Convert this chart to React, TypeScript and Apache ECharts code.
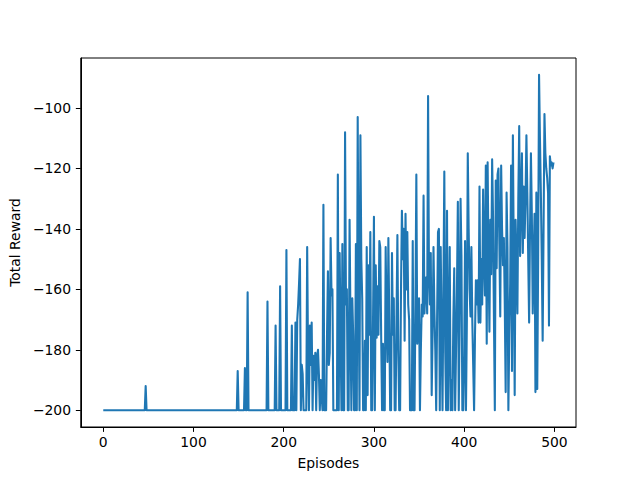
import React, { useEffect, useRef } from "react";
import * as echarts from "echarts";

// Total reward per episode (episode index = array index)
const rewards: number[] = [
  // 0-49
  -200, -200, -200, -200, -200, -200, -200, -200, -200, -200,
  -200, -200, -200, -200, -200, -200, -200, -200, -200, -200,
  -200, -200, -200, -200, -200, -200, -200, -200, -200, -200,
  -200, -200, -200, -200, -200, -200, -200, -200, -200, -200,
  -200, -200, -200, -200, -200, -200, -200, -192, -200, -200,
  // 50-99
  -200, -200, -200, -200, -200, -200, -200, -200, -200, -200,
  -200, -200, -200, -200, -200, -200, -200, -200, -200, -200,
  -200, -200, -200, -200, -200, -200, -200, -200, -200, -200,
  -200, -200, -200, -200, -200, -200, -200, -200, -200, -200,
  -200, -200, -200, -200, -200, -200, -200, -200, -200, -200,
  // 100-149
  -200, -200, -200, -200, -200, -200, -200, -200, -200, -200,
  -200, -200, -200, -200, -200, -200, -200, -200, -200, -200,
  -200, -200, -200, -200, -200, -200, -200, -200, -200, -200,
  -200, -200, -200, -200, -200, -200, -200, -200, -200, -200,
  -200, -200, -200, -200, -200, -200, -200, -200, -200, -187,
  // 150-199
  -200, -200, -200, -200, -200, -200, -200, -186, -200, -200,
  -161, -200, -200, -200, -200, -200, -200, -200, -200, -200,
  -200, -200, -200, -200, -200, -200, -200, -200, -200, -200,
  -200, -200, -164, -200, -200, -200, -200, -200, -200, -200,
  -200, -172, -200, -200, -200, -200, -159, -200, -200, -200,
  // 200-249
  -200, -200, -200, -147, -200, -200, -200, -200, -200, -172,
  -200, -200, -200, -171, -200, -170, -165, -158, -150, -200,
  -185, -188, -200, -200, -200, -200, -146, -183, -200, -172,
  -185, -171, -200, -182, -190, -181, -200, -182, -180, -188,
  -200, -190, -195, -200, -132, -200, -200, -200, -175, -154,
  // 250-299
  -185, -181, -143, -162, -160, -200, -200, -200, -200, -200,
  -122, -200, -148, -175, -200, -145, -200, -200, -108, -165,
  -160, -200, -200, -137, -171, -200, -163, -175, -200, -200,
  -145, -200, -103, -160, -200, -109, -150, -163, -200, -200,
  -177, -200, -146, -195, -152, -175, -141, -200, -200, -170,
  // 300-349
  -136, -200, -152, -176, -159, -175, -144, -146, -175, -200,
  -178, -200, -200, -146, -170, -184, -143, -170, -200, -200,
  -148, -175, -163, -200, -200, -170, -142, -180, -200, -200,
  -160, -134, -150, -140, -177, -135, -160, -141, -165, -170,
  -200, -200, -200, -144, -200, -200, -165, -122, -178, -170,
  // 350-399
  -163, -200, -180, -165, -169, -129, -168, -160, -156, -168,
  -96, -155, -165, -148, -195, -175, -146, -167, -180, -200,
  -170, -141, -140, -200, -146, -175, -200, -160, -121, -180,
  -200, -134, -200, -175, -146, -200, -190, -200, -170, -153,
  -200, -180, -160, -131, -200, -170, -130, -149, -200, -200,
  // 400-449
  -182, -144, -200, -170, -115, -140, -160, -169, -146, -170,
  -185, -200, -175, -157, -165, -157, -171, -126, -171, -150,
  -165, -127, -150, -162, -119, -178, -118, -150, -174, -137,
  -155, -117, -136, -170, -200, -124, -153, -122, -120, -145,
  -169, -119, -140, -152, -143, -165, -194, -128, -146, -200,
  // 450-499
  -175, -158, -119, -187, -109, -151, -195, -137, -150, -168,
  -130, -106, -149, -130, -115, -148, -126, -143, -130, -109,
  -128, -150, -171, -140, -115, -135, -168, -150, -135, -194,
  -128, -193, -150, -89, -110, -128, -150, -177, -140, -102,
  -115, -120, -123, -128, -172, -116, -119, -118, -120, -118,
];

const xTicks = [0, 100, 200, 300, 400, 500];
const yTicks = [-200, -180, -160, -140, -120, -100];

const FONT = "DejaVu Sans";
const fmt = (v: number) => String(v).replace("-", "\u2212");

export default function App() {
  const ref = useRef<HTMLDivElement>(null);
  useEffect(() => {
    if (!ref.current) return;
    const chart = echarts.init(ref.current, undefined, { renderer: "svg" });
    const n = rewards.length;
    const xPad = (n - 1) * 0.05;
    const yMinD = Math.min(...rewards);
    const yMaxD = Math.max(...rewards);
    const yPad = (yMaxD - yMinD) * 0.05;
    chart.setOption({
      animation: false,
      backgroundColor: "#ffffff",
      textStyle: { fontFamily: FONT },
      grid: {
        left: 80,
        top: 58,
        width: 496,
        height: 369,
        show: true,
        borderColor: "#000000",
        borderWidth: 1,
        backgroundColor: "transparent",
      },
      xAxis: {
        type: "value",
        min: -xPad,
        max: n - 1 + xPad,
        name: "Episodes",
        nameLocation: "middle",
        nameGap: 29,
        nameTextStyle: { fontFamily: FONT, fontSize: 13.9, color: "#000" },
        axisLine: { show: true, onZero: false, lineStyle: { color: "#000", width: 1 } },
        axisTick: {
          show: true,
          inside: false,
          length: 4.9,
          customValues: xTicks,
          lineStyle: { color: "#000", width: 1 },
        },
        axisLabel: {
          show: true,
          customValues: xTicks,
          margin: 8,
          fontFamily: FONT,
          fontSize: 13.9,
          color: "#000",
          formatter: (v: number) => fmt(v),
        },
        splitLine: { show: false },
      },
      yAxis: {
        type: "value",
        min: yMinD - yPad,
        max: yMaxD + yPad,
        name: "Total Reward",
        nameLocation: "middle",
        nameGap: 50,
        nameTextStyle: { fontFamily: FONT, fontSize: 13.9, color: "#000" },
        axisLine: { show: true, onZero: false, lineStyle: { color: "#000", width: 1 } },
        axisTick: {
          show: true,
          inside: false,
          length: 4.9,
          customValues: yTicks,
          lineStyle: { color: "#000", width: 1 },
        },
        axisLabel: {
          show: true,
          customValues: yTicks,
          margin: 9.7,
          fontFamily: FONT,
          fontSize: 13.9,
          color: "#000",
          formatter: (v: number) => fmt(v),
        },
        splitLine: { show: false },
      },
      series: [
        {
          type: "line",
          data: rewards.map((v, i) => [i, v]),
          showSymbol: false,
          symbol: "none",
          lineStyle: { color: "#1f77b4", width: 2.08, join: "round", cap: "butt" },
          itemStyle: { color: "#1f77b4" },
        },
      ],
    });
    return () => chart.dispose();
  }, []);
  return (
    <div
      ref={ref}
      style={{ position: "absolute", left: 0, top: 0, width: 640, height: 480, background: "#fff" }}
    />
  );
}
